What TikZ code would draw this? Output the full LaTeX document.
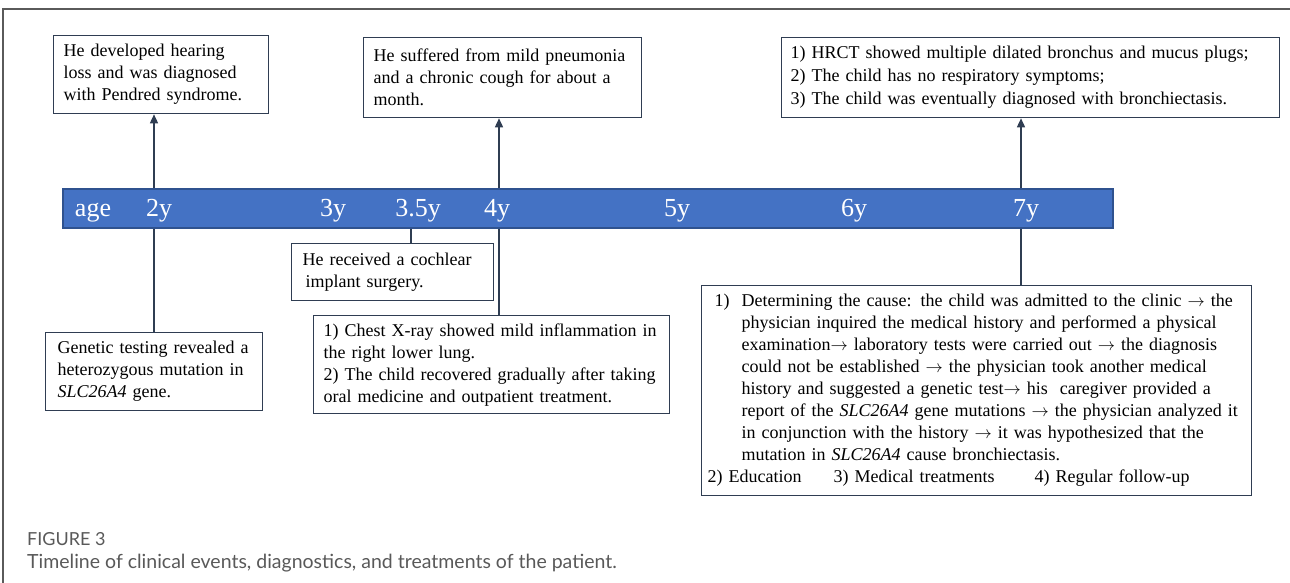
\documentclass[tikz,border=0pt]{standalone}
\usepackage{fontspec}
\setmainfont{Liberation Serif}
\newfontfamily\capfont{Lato}
\usetikzlibrary{arrows.meta}
\definecolor{barblue}{HTML}{4472C4}
\definecolor{bardark}{HTML}{2F528F}
\definecolor{boxline}{HTML}{2F3D52}
\definecolor{framegray}{HTML}{5A5A5A}
\definecolor{capgray}{HTML}{595959}
\setlength{\parindent}{0pt}
\newcommand{\hang}{\hspace*{34pt}}
\newcommand{\ra}{$\rightarrow$}
\begin{document}
\begin{tikzpicture}[x=1pt,y=-1pt,
  evbox/.style={draw=boxline, line width=1.3pt, fill=white, anchor=north west,
    inner xsep=10pt, inner ysep=0pt, align=left, font=\fontsize{18}{22}\selectfont},
  conn/.style={draw=boxline, line width=1.5pt},
  uparrow/.style={conn, -{Triangle[width=8pt,length=9pt]}},
  ticklab/.style={text=white, font=\fontsize{26}{30}\selectfont, anchor=base, inner sep=0pt}]
\useasboundingbox (0,0) rectangle (1290,583);
\draw[framegray, line width=1.5pt] (3,583) -- (3,9) -- (1290,9);

% timeline bar
\node[draw=bardark, fill=barblue, line width=1.5pt, minimum width=1050pt,
  minimum height=39pt, anchor=north west, inner sep=0pt] (bar) at (62,188) {};
\node[ticklab] (lage) at (93,216) {age};
\node[ticklab] (l2) at (159,216) {2y};
\node[ticklab] (l3) at (333,216) {3y};
\node[ticklab] (l35) at (418,216) {3.5y};
\node[ticklab] (l4) at (497,216) {4y};
\node[ticklab] (l5) at (677,216) {5y};
\node[ticklab] (l6) at (854,216) {6y};
\node[ticklab] (l7) at (1026,216) {7y};

\coordinate (t2) at (154,207);
\coordinate (t35) at (411,207);
\coordinate (t4) at (499,207);
\coordinate (t7) at (1021,207);

% boxes above
\node[evbox, text width=195pt, minimum width=215pt, minimum height=78pt] (boxA) at (53,35)
  {He developed hearing\\loss and was diagnosed\\with Pendred syndrome.};
\node[evbox, text width=258pt, minimum width=278pt, minimum height=80pt] (boxB) at (363,37)
  {He suffered from mild pneumonia\\and a chronic cough for about a\\month.};
\node[evbox, inner xsep=9pt, text width=480pt, minimum width=498pt, minimum height=80pt,
  font=\fontsize{18}{23}\selectfont] (boxC) at (781,37)
  {1) HRCT showed multiple dilated bronchus and mucus plugs;\\2) The child has no respiratory symptoms;\\3) The child was eventually diagnosed with bronchiectasis.};

% boxes below
\node[evbox, inner xsep=12pt, text width=193pt, minimum width=217pt, minimum height=78pt] (boxD) at (45,332)
  {Genetic testing revealed a\\heterozygous mutation in\\\textit{SLC26A4} gene.};
\node[evbox, inner xsep=11pt, text width=180pt, minimum width=202pt, minimum height=57pt] (boxE) at (291,243)
  {He received a cochlear\\\hspace*{3pt}implant surgery.};
\node[evbox, text width=336pt, minimum width=356pt, minimum height=98pt] (boxF) at (313,315)
  {1) Chest X-ray showed mild inflammation in\\the right lower lung.\\2) The child recovered gradually after taking\\oral medicine and outpatient treatment.};
\node[evbox, inner xsep=6pt, text width=538pt, minimum width=550pt, minimum height=210pt] (boxG) at (701,285)
  {\hspace*{7pt}\makebox[27pt][l]{1)}Determining the cause: the child was admitted to the clinic \ra{} the\\
   \hang physician inquired the medical history and performed a physical\\
   \hang examination\ra{} laboratory tests were carried out \ra{} the diagnosis\\
   \hang could not be established \ra{} the physician took another medical\\
   \hang history and suggested a genetic test\ra{} his\ \ caregiver provided a\\
   \hang report of the \textit{SLC26A4} gene mutations \ra{} the physician analyzed it\\
   \hang in conjunction with the history \ra{} it was hypothesized that the\\
   \hang mutation in \textit{SLC26A4} cause bronchiectasis.\\
   \makebox[126pt][l]{2) Education}\makebox[201pt][l]{3) Medical treatments}4) Regular follow-up};

% connectors
\draw[uparrow] (t2 |- bar.north) -- (t2 |- boxA.south);
\draw[uparrow] (t4 |- bar.north) -- (t4 |- boxB.south);
\draw[uparrow] (t7 |- bar.north) -- (t7 |- boxC.south);
\draw[conn] (t2 |- bar.south) -- (t2 |- boxD.north);
\draw[conn] (t35 |- bar.south) -- (t35 |- boxE.north);
\draw[conn] (t4 |- bar.south) -- (t4 |- boxF.north);
\draw[conn] (t7 |- bar.south) -- (t7 |- boxG.north);

% caption
\node[anchor=base west, inner sep=0pt, text=capgray, font=\capfont\fontsize{18}{20}\selectfont] (figlab) at (27,545) {FIGURE 3};
\node[anchor=base west, inner sep=0pt, text=capgray, font=\capfont\fontsize{19.5}{22}\selectfont] (caption) at (27,568)
  {Timeline of clinical events, diagnostics, and treatments of the patient.};
\end{tikzpicture}
\end{document}
